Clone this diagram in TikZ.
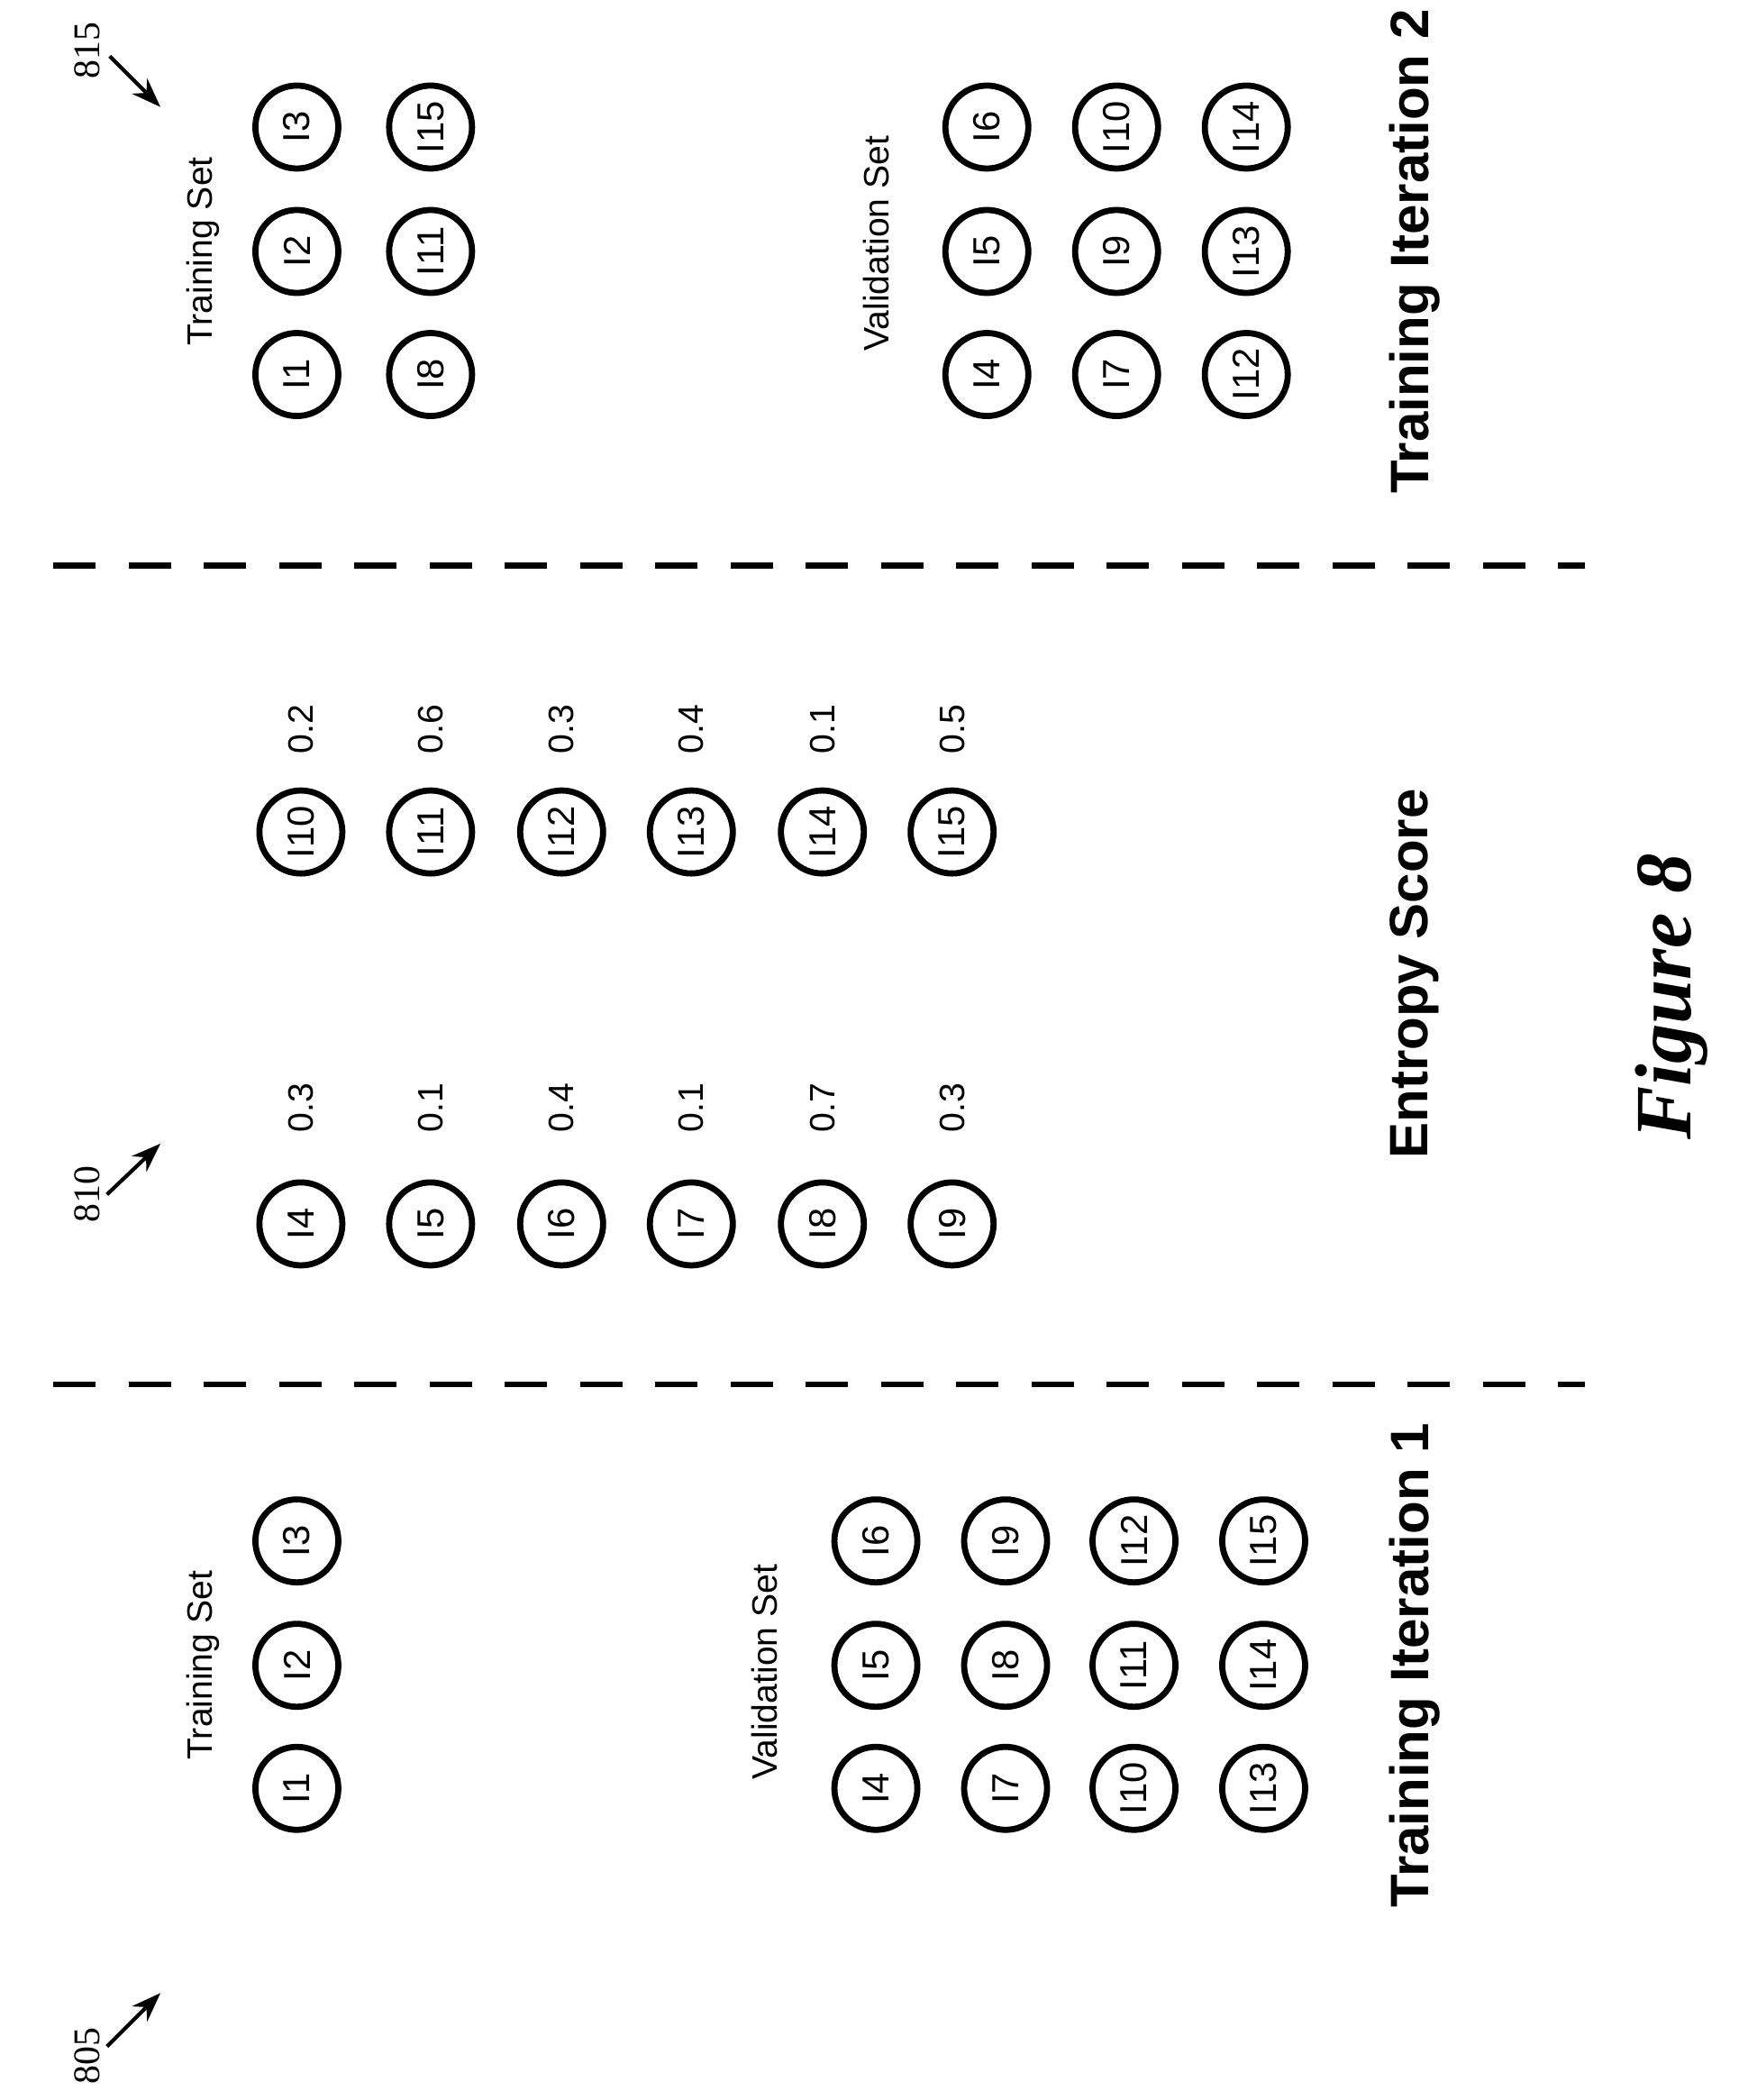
\documentclass[tikz,border=0pt]{standalone}
\usepackage{fontspec}
\setmainfont{Liberation Sans}
\newfontfamily\serifnum{Liberation Serif}
\usetikzlibrary{arrows.meta}
\tikzset{
  item/.style={draw, line width=1.3pt, circle, minimum size=0.62cm, inner sep=0pt, rotate=90, font=\fontsize{8}{9}\selectfont},
  lbl/.style={rotate=90, font=\fontsize{7.5}{9}\selectfont},
  title/.style={rotate=90, font=\bfseries\fontsize{11.5}{13}\selectfont},
  refnum/.style={rotate=90, font=\serifnum\fontsize{8}{9}\selectfont},
  refarrow/.style={-{Stealth[length=2.2mm,width=1.6mm]}, line width=0.8pt}
}
\newcommand{\itm}[3]{\node[item] (#1) at (#2) {#3};}
\begin{document}
\begin{tikzpicture}[x=0.01cm, y=-0.01cm]
            \useasboundingbox (0,0) rectangle (1300,1570);
            % separators
            \coordinate (sepa) at (40,1035); \coordinate (sepb) at (1185,1035);
            \coordinate (sepc) at (40,423);  \coordinate (sepd) at (1185,423);
            \draw[line width=1.3pt, dash pattern=on 9pt off 7pt] (sepa) -- (sepb);
            \draw[line width=1.3pt, dash pattern=on 9pt off 7pt] (sepc) -- (sepd);
            % training iteration 1
            \node[lbl] (tsa) at (152,1245) {Training Set};
            \itm{ta1}{222,1337}{I1}
            \itm{ta2}{222,1245}{I2}
            \itm{ta3}{222,1152}{I3}
            \node[lbl] (vsa) at (572,1250) {Validation Set};
            \foreach \x/\a/\b/\c in {655/4/5/6, 752/7/8/9, 848/10/11/12, 945/13/14/15} {
                \node[item] (va\a) at (\x,1337) {I\a};
                \node[item] (va\b) at (\x,1245) {I\b};
                \node[item] (va\c) at (\x,1152) {I\c};
            }
            \node[title] (tia) at (1058,1245) {Training Iteration 1};
            \node[refnum] (n805) at (65,1537) {805};
            \coordinate (p805a) at (80,1530); \coordinate (p805b) at (120,1490);
            \draw[refarrow] (p805a) -- (p805b);
            % entropy score
            \foreach \x/\i/\s/\j/\t in {225/4/0.3/10/0.2, 322/5/0.1/11/0.6, 420/6/0.4/12/0.3,
                                        517/7/0.1/13/0.4, 615/8/0.7/14/0.1, 712/9/0.3/15/0.5} {
                \node[item] (ea\i) at (\x,915) {I\i};
                \node[lbl] (sa\i) at (\x,828) {\s};
                \node[item] (eb\j) at (\x,622) {I\j};
                \node[lbl] (sb\j) at (\x,545) {\t};
            }
            \node[title] (esc) at (1058,728) {Entropy Score};
            \node[refnum] (n810) at (65,893) {810};
            \coordinate (p810a) at (80,893); \coordinate (p810b) at (120,855);
            \draw[refarrow] (p810a) -- (p810b);
            % training iteration 2
            \node[lbl] (tsb) at (152,188) {Training Set};
            \foreach \x/\a/\b/\c in {222/1/2/3, 322/8/11/15} {
                \node[item] (tb\a) at (\x,280) {I\a};
                \node[item] (tb\b) at (\x,188) {I\b};
                \node[item] (tb\c) at (\x,95) {I\c};
            }
            \node[lbl] (vsb) at (655,182) {Validation Set};
            \foreach \x/\a/\b/\c in {738/4/5/6, 835/7/9/10, 932/12/13/14} {
                \node[item] (vb\a) at (\x,280) {I\a};
                \node[item] (vb\b) at (\x,188) {I\b};
                \node[item] (vb\c) at (\x,95) {I\c};
            }
            \node[title] (tib) at (1058,188) {Training Iteration 2};
            \node[refnum] (n815) at (65,38) {815};
            \coordinate (p815a) at (82,42); \coordinate (p815b) at (120,80);
            \draw[refarrow] (p815a) -- (p815b);
            % caption
            \node[rotate=90, font=\serifnum\bfseries\itshape\fontsize{17}{20}\selectfont] (fig) at (1250,745) {Figure 8};
\end{tikzpicture}
\end{document}
